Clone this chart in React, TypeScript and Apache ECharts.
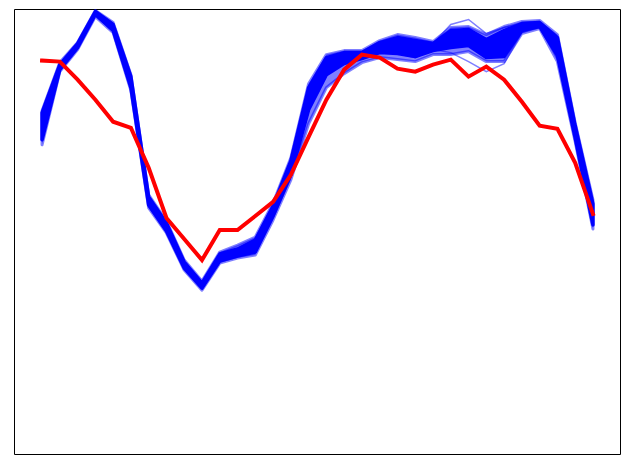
import React, { useEffect, useRef } from "react";
import * as echarts from "echarts";

// sample positions (index along x)
const xIndex: number[] = Array.from({ length: 32 }, (_, i) => i);

// red reference curve
const redSeries: number[] = [393, 392, 374, 354, 332, 326, 286, 236, 215, 194, 224, 224, 238, 252, 279, 317, 354, 384, 399, 396, 385, 382, 389, 394, 377, 387, 374, 352, 328, 325, 291, 240];

// blue ensemble envelopes
const blueOuterTop: number[] = [343, 391, 411, 443, 431, 379, 259, 233, 194, 173, 202, 209, 217, 251, 296, 370, 399, 403, 403, 413, 419, 416, 412, 426, 427, 419, 427, 432, 433, 419, 331, 254];
const blueCoreTop: number[] = [341, 389, 410, 442, 429, 377, 257, 231, 192, 171, 200, 205, 214, 248, 293, 366, 396, 401, 401, 411, 416, 413, 410, 423, 424, 414, 423, 430, 431, 416, 328, 250];
const blueCoreBottom: number[] = [314, 384, 406, 439, 423, 366, 249, 223, 186, 166, 193, 198, 202, 238, 279, 344, 379, 390, 395, 401, 400, 397, 403, 406, 408, 396, 397, 423, 427, 398, 316, 229];
const blueOuterBottom: number[] = [309, 382, 404, 437, 421, 363, 246, 221, 184, 164, 191, 196, 199, 234, 274, 330, 366, 380, 391, 396, 394, 392, 399, 399, 402, 392, 392, 420, 425, 392, 312, 225];

// individual outlying blue members
const blueOutlierHigh: number[] = [341, 389, 410, 442, 429, 377, 257, 231, 192, 171, 200, 205, 214, 248, 293, 366, 396, 401, 401, 411, 416, 413, 410, 429, 434, 420, 426, 430, 431, 416, 328, 250];
const blueOutlierLow: number[] = [314, 384, 406, 439, 423, 366, 249, 223, 186, 166, 193, 198, 202, 238, 279, 344, 379, 390, 395, 401, 400, 396, 404, 401, 392, 382, 390, 421, 427, 398, 316, 229];

const BLUE = "#0000ff";
const BLUE_T = "rgba(0,0,255,0.5)";

function bandSeries(top: number[], bottom: number[], fill: string, strokeW: number) {
  return {
    type: "custom",
    data: xIndex.map((x, i) => [x, top[i], bottom[i]]),
    silent: true,
    renderItem: (params: any, api: any) => {
      if (params.dataIndex !== 0) return null;
      const pts: number[][] = [];
      xIndex.forEach((x, i) => pts.push(api.coord([x, top[i]])));
      for (let i = xIndex.length - 1; i >= 0; i--) pts.push(api.coord([xIndex[i], bottom[i]]));
      return {
        type: "polygon",
        shape: { points: pts },
        style: { fill, stroke: fill, lineWidth: strokeW, lineJoin: "round" },
      };
    },
  };
}

function lineSeries(vals: number[], color: string, width: number) {
  return {
    type: "line",
    data: xIndex.map((x, i) => [x, vals[i]]),
    showSymbol: false,
    symbol: "none",
    silent: true,
    lineStyle: { color, width, cap: "square", join: "miter" },
  };
}

export default function App() {
  const ref = useRef<HTMLDivElement>(null);
  useEffect(() => {
    if (!ref.current) return;
    const chart = echarts.init(ref.current, null, { renderer: "svg" });
    chart.setOption({
      animation: false,
      backgroundColor: "#ffffff",
      grid: { left: 14.5, right: 9.5, top: 9.5, bottom: 15.5, show: true, borderColor: "#000000", borderWidth: 1, backgroundColor: "transparent" },
      xAxis: {
        type: "value", min: -1.55, max: 32.55,
        axisLine: { show: false }, axisTick: { show: false }, axisLabel: { show: false }, splitLine: { show: false },
      },
      yAxis: {
        type: "value", min: 0, max: 444,
        axisLine: { show: false }, axisTick: { show: false }, axisLabel: { show: false }, splitLine: { show: false },
      },
      series: [
        bandSeries(blueOuterTop, blueOuterBottom, BLUE_T, 3),
        bandSeries(blueCoreTop, blueCoreBottom, BLUE, 3.5),
        lineSeries(blueOutlierHigh, BLUE_T, 1.5),
        lineSeries(blueOutlierLow, BLUE_T, 1.5),
        lineSeries(redSeries, "#ff0000", 4),
      ],
    });
    return () => chart.dispose();
  }, []);
  return <div ref={ref} style={{ position: "fixed", left: 0, top: 0, width: 630, height: 470 }} />;
}
